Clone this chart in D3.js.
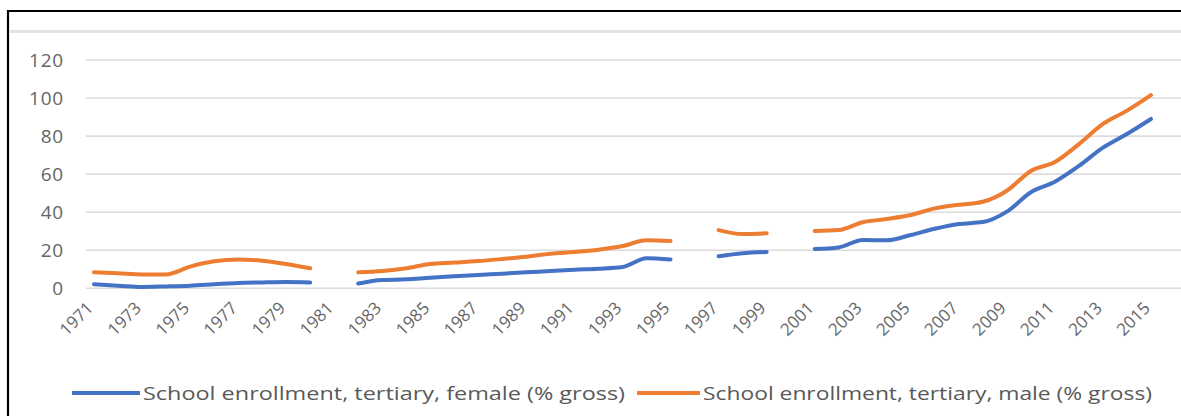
<!DOCTYPE html>
<html>
<head>
<meta charset="utf-8">
<script src="https://cdn.jsdelivr.net/npm/d3@7"></script>
<style>
  html, body { margin: 0; padding: 0; background: #fff; }
  svg { display: block; }
  text { font-family: "Open Sans", "Noto Sans", sans-serif; }
</style>
</head>
<body>
<svg id="chart" width="1181" height="416"></svg>
<script>
// Tertiary school enrollment, % gross, 1971-2015 (null = no data that year)
const years = [1971, 1972, 1973, 1974, 1975, 1976, 1977, 1978, 1979, 1980,
  1981, 1982, 1983, 1984, 1985, 1986, 1987, 1988, 1989, 1990,
  1991, 1992, 1993, 1994, 1995, 1996, 1997, 1998, 1999, 2000,
  2001, 2002, 2003, 2004, 2005, 2006, 2007, 2008, 2009, 2010,
  2011, 2012, 2013, 2014, 2015];

const female = [2.1, 1.4, 0.7, 1.0, 1.4, 2.1, 2.8, 3.1, 3.3, 3.1,
  null, 2.5, 4.4, 4.7, 5.6, 6.3, 7.0, 7.7, 8.4, 9.1,
  9.8, 10.3, 11.2, 15.8, 15.2, null, 16.8, 18.4, 19.1, null,
  20.7, 21.5, 25.4, 25.2, 28.0, 31.3, 33.8, 34.8, 40.3, 50.5,
  56.0, 64.3, 73.9, 81.1, 89.0];

const male = [8.4, 7.9, 7.3, 7.3, 11.4, 14.2, 15.2, 14.5, 12.8, 10.5,
  null, 8.4, 9.1, 10.5, 12.8, 13.5, 14.3, 15.4, 16.6, 18.2,
  19.1, 20.3, 22.2, 25.2, 24.9, null, 30.6, 28.5, 28.9, null,
  30.1, 30.6, 34.7, 36.4, 38.5, 42.0, 43.9, 45.5, 51.3, 61.7,
  66.4, 75.8, 86.4, 93.4, 101.6];

const yTicks = [0, 20, 40, 60, 80, 100, 120];
const xTickLabels = years.filter((d, i) => i % 2 === 0);

const seriesNames = [
  "School enrollment, tertiary, female (% gross)",
  "School enrollment, tertiary, male (% gross)"
];
const seriesColors = ["#4472C4", "#ED7D31"];

const svg = d3.select("#chart");

// outer frame (top and left edges visible)
svg.append("path")
  .attr("d", "M8,416 L8,11 L1181,11")
  .attr("fill", "none")
  .attr("stroke", "#000")
  .attr("stroke-width", 2.2);
svg.append("line")
  .attr("x1", 10).attr("x2", 1181)
  .attr("y1", 31.5).attr("y2", 31.5)
  .attr("stroke", "#e4e4e4")
  .attr("stroke-width", 3);

const x = d3.scalePoint().domain(years).range([94, 1151]);
const y = d3.scaleLinear().domain([0, 120]).range([288.3, 60]);

// horizontal gridlines
svg.append("g")
  .selectAll("line")
  .data(yTicks)
  .join("line")
  .attr("x1", 86).attr("x2", 1181)
  .attr("y1", d => y(d)).attr("y2", d => y(d))
  .attr("stroke", "#dcdcdc")
  .attr("stroke-width", 1.6);

// value axis labels
svg.append("g")
  .selectAll("text")
  .data(yTicks)
  .join("text")
  .attr("x", 64)
  .attr("y", d => y(d))
  .attr("dy", "0.36em")
  .attr("text-anchor", "end")
  .attr("fill", "#666")
  .attr("font-size", 19)
  .attr("letter-spacing", 0.8)
  .text(d => d);

// category axis labels, rotated
svg.append("g")
  .selectAll("text")
  .data(xTickLabels)
  .join("text")
  .attr("transform", d => `translate(${x(d) - 4},${305}) rotate(-45)`)
  .attr("text-anchor", "end")
  .attr("dy", "0.35em")
  .attr("fill", "#666")
  .attr("font-size", 17)
  .text(d => d);

// series lines
const line = d3.line()
  .defined(d => d.v !== null)
  .x(d => x(d.year))
  .y(d => y(d.v))
  .curve(d3.curveMonotoneX);

[female, male].forEach((vals, k) => {
  const pts = years.map((yr, i) => ({ year: yr, v: vals[i] }));
  svg.append("path")
    .datum(pts)
    .attr("fill", "none")
    .attr("stroke", seriesColors[k])
    .attr("stroke-width", 4)
    .attr("stroke-linejoin", "round")
    .attr("stroke-linecap", "round")
    .attr("d", line);
});

// legend
const legendItems = [
  { x0: 72, x1: 140, tx: 143, tl: 482 },
  { x0: 637, x1: 700, tx: 703, tl: 449 }
];
legendItems.forEach((it, k) => {
  svg.append("line")
    .attr("x1", it.x0).attr("x2", it.x1)
    .attr("y1", 393).attr("y2", 393)
    .attr("stroke", seriesColors[k])
    .attr("stroke-width", 4);
  svg.append("text")
    .attr("x", it.tx)
    .attr("y", 393)
    .attr("dy", "0.35em")
    .attr("fill", "#595959")
    .attr("font-size", 19)
    .attr("textLength", it.tl)
    .attr("lengthAdjust", "spacingAndGlyphs")
    .text(seriesNames[k]);
});
</script>
</body>
</html>
